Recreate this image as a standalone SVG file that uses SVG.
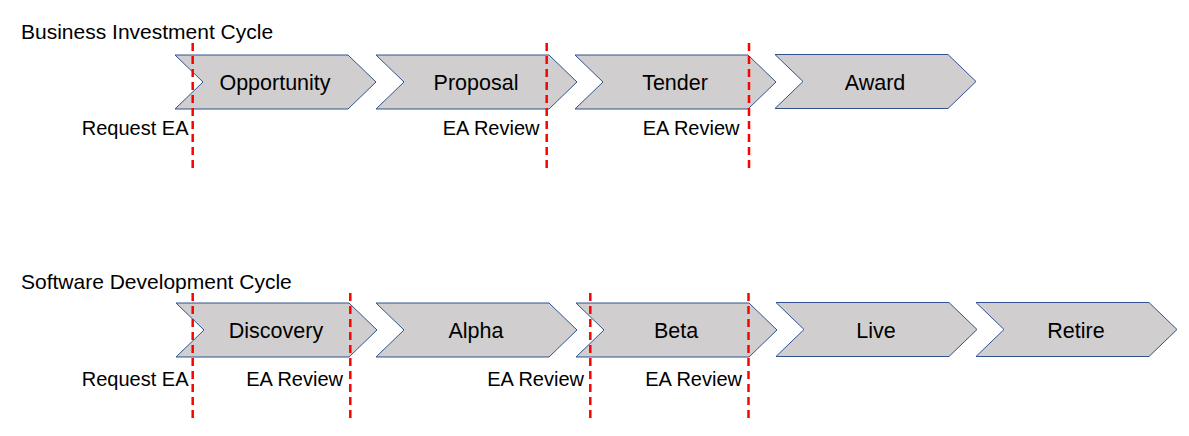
<svg xmlns="http://www.w3.org/2000/svg" width="1189" height="436" viewBox="0 0 1189 436">
<style>
text{font-family:"Liberation Sans",Arial,sans-serif;fill:#000}
.t{font-size:21px}
.l{font-size:20px;text-anchor:end}
.c{font-size:21.5px;text-anchor:middle}
.chev{fill:#D0CECE;stroke:#2F528F;stroke-width:1}
.rl{stroke:#FF0000;stroke-width:2.5;stroke-dasharray:8 5;fill:none}
</style>
<defs>
<path id="chev" d="M0,0 H173 L201,27 L173,54 H0 L28,27 Z"/>
</defs>
<rect width="1189" height="436" fill="#fff"/>
<text class="t" x="21" y="39">Business Investment Cycle</text>
<text class="t" x="21" y="289">Software Development Cycle</text>
<g id="opportunity"><use href="#chev" class="chev" x="175" y="55"/><text class="c" x="275" y="90">Opportunity</text></g>
<g id="proposal"><use href="#chev" class="chev" x="376" y="55"/><text class="c" x="476" y="90">Proposal</text></g>
<g id="tender"><use href="#chev" class="chev" x="575" y="55"/><text class="c" x="675" y="90">Tender</text></g>
<g id="award"><use href="#chev" class="chev" x="775" y="54.5"/><text class="c" x="875" y="89.5">Award</text></g>
<g id="discovery"><use href="#chev" class="chev" x="176" y="303"/><text class="c" x="276" y="338">Discovery</text></g>
<g id="alpha"><use href="#chev" class="chev" x="376" y="303"/><text class="c" x="476" y="338">Alpha</text></g>
<g id="beta"><use href="#chev" class="chev" x="576" y="303"/><text class="c" x="676" y="338">Beta</text></g>
<g id="live"><use href="#chev" class="chev" x="776" y="302.5"/><text class="c" x="876" y="337.5">Live</text></g>
<g id="retire"><use href="#chev" class="chev" x="976" y="302.5"/><text class="c" x="1076" y="337.5">Retire</text></g>
<g id="connectors">
<line class="rl" x1="192.7" y1="43" x2="192.7" y2="170"/>
<line class="rl" x1="546.7" y1="43" x2="546.7" y2="170"/>
<line class="rl" x1="749" y1="43" x2="749" y2="170"/>
<line class="rl" x1="192.7" y1="293" x2="192.7" y2="418"/>
<line class="rl" x1="350.3" y1="293" x2="350.3" y2="418"/>
<line class="rl" x1="590.3" y1="293" x2="590.3" y2="418"/>
<line class="rl" x1="748.5" y1="293" x2="748.5" y2="418"/>
</g>
<g id="labels">
<text class="l" x="188.5" y="135">Request EA</text>
<text class="l" x="539.5" y="135">EA Review</text>
<text class="l" x="739.5" y="135">EA Review</text>
<text class="l" x="188.5" y="386">Request EA</text>
<text class="l" x="343" y="386">EA Review</text>
<text class="l" x="584" y="386">EA Review</text>
<text class="l" x="742" y="386">EA Review</text>
</g>
</svg>
